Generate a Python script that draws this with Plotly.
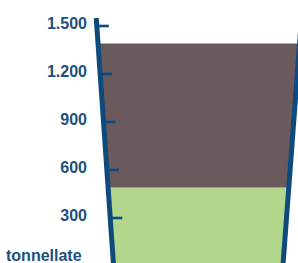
import plotly.graph_objects as go

# ---- data ----
layer_names = ["strato inferiore", "strato superiore"]
layer_values = [490, 900]          # tonnellate (stacked)
tick_values = [300, 600, 900, 1200, 1500]
tick_labels = ["300", "600", "900", "1.200", "1.500"]
unit_label = "tonnellate"
glass_top = 1550

# ---- style / geometry ----
W, H = 298, 263
PX_PER_UNIT = 0.16
Y_TOP_VAL = 1500 + 26 / PX_PER_UNIT
Y_BOT_VAL = Y_TOP_VAL - H / PX_PER_UNIT
BLUE = "#0f4a7d"
TEXT = "#1d4f80"
COLORS = ["#b2d68c", "#6a5a5b"]
FONT = "Liberation Sans, Arial, sans-serif"


def ypx(v):
    return (Y_TOP_VAL - v) * PX_PER_UNIT


def xl(v):
    return 96.8 + 0.07 * (ypx(v) - 26)


def xr(v):
    return 301.5 - 0.075 * (ypx(v) - 18)


fig = go.Figure()

lo_v = Y_BOT_VAL - 50
base = lo_v
cum = 0
for name, val, col in zip(layer_names, layer_values, COLORS):
    cum += val
    b, top = base, cum
    xs = [xl(b), xr(b), xr(top), xl(top), xl(b)]
    ys = [b, b, top, top, b]
    fig.add_trace(go.Scatter(x=xs, y=ys, fill="toself", fillcolor=col,
                             line=dict(width=0), mode="lines", name=name,
                             hoverinfo="skip", showlegend=False))
    base = top

# glass walls
for f in (xl, xr):
    fig.add_trace(go.Scatter(x=[f(glass_top), f(lo_v)], y=[glass_top, lo_v],
                             mode="lines", line=dict(color=BLUE, width=5),
                             hoverinfo="skip", showlegend=False))
# tick marks
for v in tick_values:
    fig.add_trace(go.Scatter(x=[xl(v), xl(v) + 12], y=[v, v], mode="lines",
                             line=dict(color=BLUE, width=2.6),
                             hoverinfo="skip", showlegend=False))

fig.add_annotation(x=84 / W, xref="paper", xanchor="right",
                   y=(H - 255.5) / H, yref="paper", yanchor="middle",
                   text=unit_label, showarrow=False,
                   font=dict(family=FONT, size=16, color=TEXT, weight="bold"))

fig.update_layout(
    width=W, height=H, margin=dict(l=0, r=0, t=0, b=0),
    paper_bgcolor="white", plot_bgcolor="white",
    xaxis=dict(range=[0, W], visible=False, fixedrange=True),
    yaxis=dict(range=[Y_BOT_VAL, Y_TOP_VAL], tickvals=tick_values,
               ticktext=tick_labels, showgrid=False, zeroline=False,
               showline=False, ticks="", anchor="free", position=87 / W,
               ticklabelshift=-3,
               tickfont=dict(family=FONT, size=16, color=TEXT, weight="bold"),
               fixedrange=True),
    showlegend=False,
)

fig.write_html("out.html", config={"displayModeBar": False},
               post_script="document.body.style.margin='0';")
